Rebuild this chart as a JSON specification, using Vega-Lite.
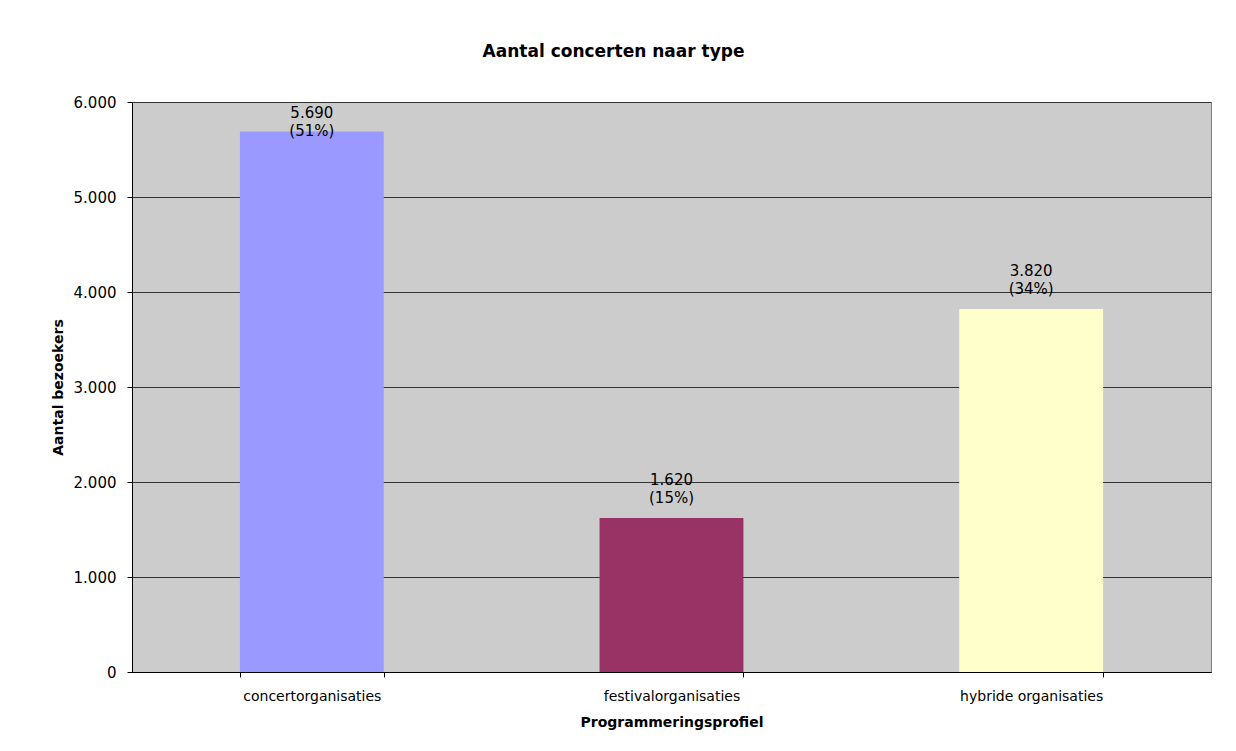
{
  "$schema": "https://vega.github.io/schema/vega-lite/v6.json",
  "width": 1079,
  "height": 570,
  "autosize": {"type": "none"},
  "padding": {"left": 132, "top": 102, "right": 25, "bottom": 79},
  "background": "white",
  "config": {
    "locale": {"number": {"decimal": ",", "thousands": ".", "grouping": [3], "currency": ["€", ""]}},
    "font": "DejaVu Sans",
    "view": {"fill": "#cccccc", "stroke": "#808080", "strokeWidth": 1}
  },
  "title": {
    "text": "Aantal concerten naar type",
    "font": "DejaVu Sans",
    "fontSize": 17,
    "fontWeight": "bold",
    "color": "#000000",
    "anchor": "middle",
    "dx": -58,
    "offset": 34
  },
  "data": {
    "values": [
      {"type": "concertorganisaties", "value": 5690, "pct": "(51%)"},
      {"type": "festivalorganisaties", "value": 1620, "pct": "(15%)"},
      {"type": "hybride organisaties", "value": 3820, "pct": "(34%)"}
    ]
  },
  "encoding": {
    "x": {
      "field": "type",
      "type": "nominal",
      "sort": null,
      "scale": {"paddingInner": 0.6, "paddingOuter": 0.3},
      "axis": {
        "title": "Programmeringsprofiel",
        "titleFont": "DejaVu Sans",
        "titleFontSize": 14,
        "titleFontWeight": "bold",
        "titleColor": "#000000",
        "titlePadding": 12,
        "labelAngle": 0,
        "labelFont": "DejaVu Sans",
        "labelFontSize": 14,
        "labelColor": "#000000",
        "labelPadding": 12,
        "tickBand": "extent",
        "tickSize": 5,
        "tickColor": "#000000",
        "domainColor": "#000000",
        "grid": false
      }
    },
    "y": {
      "field": "value",
      "type": "quantitative",
      "scale": {"domain": [0, 6000]},
      "axis": {
        "title": "Aantal bezoekers",
        "titleFont": "DejaVu Sans",
        "titleFontSize": 14,
        "titleFontWeight": "bold",
        "titleColor": "#000000",
        "titlePadding": 8,
        "values": [0, 1000, 2000, 3000, 4000, 5000, 6000],
        "format": ",d",
        "labelFont": "DejaVu Sans",
        "labelFontSize": 15,
        "labelColor": "#000000",
        "labelPadding": 11,
        "tickSize": 5,
        "tickColor": "#000000",
        "domainColor": "#000000",
        "grid": true,
        "gridColor": "#333333",
        "gridWidth": 1
      }
    }
  },
  "layer": [
    {
      "mark": {"type": "bar"},
      "encoding": {
        "color": {
          "field": "type",
          "type": "nominal",
          "sort": null,
          "scale": {"range": ["#9999ff", "#993366", "#ffffcc"]},
          "legend": null
        }
      }
    },
    {
      "transform": [{"calculate": "min(datum.value, 5480)", "as": "labelY"}],
      "mark": {"type": "text", "baseline": "middle", "dy": -38, "fontSize": 15, "font": "DejaVu Sans", "color": "#000000"},
      "encoding": {
        "y": {"field": "labelY", "type": "quantitative"},
        "text": {"field": "value", "type": "quantitative", "format": ",d"}
      }
    },
    {
      "transform": [{"calculate": "min(datum.value, 5480)", "as": "labelY"}],
      "mark": {"type": "text", "baseline": "middle", "dy": -20, "fontSize": 15, "font": "DejaVu Sans", "color": "#000000"},
      "encoding": {
        "y": {"field": "labelY", "type": "quantitative"},
        "text": {"field": "pct", "type": "nominal"}
      }
    }
  ]
}
